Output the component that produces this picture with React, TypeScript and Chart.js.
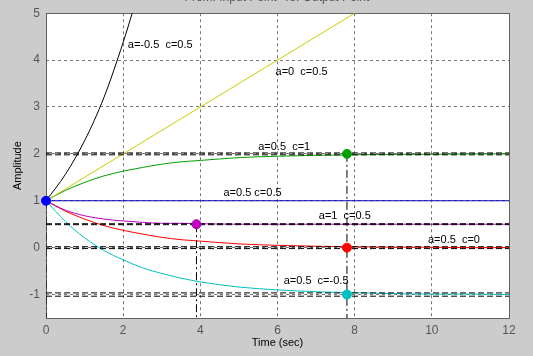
import React, { useEffect, useRef } from "react";
import { Chart, registerables } from "chart.js";

Chart.register(...registerables);

// ---- data ----
const times = [0, 0.5, 1, 1.5, 2, 2.5, 3, 3.5, 4, 5, 6, 7, 8, 9, 10, 11, 12];
const yA05C1 = [1, 1.22, 1.39, 1.53, 1.63, 1.71, 1.78, 1.83, 1.86, 1.92, 1.95, 1.97, 1.98, 1.99, 1.99, 2.0, 2.0];
const yA05C05 = [1, 1, 1, 1, 1, 1, 1, 1, 1, 1, 1, 1, 1, 1, 1, 1, 1];
const yA1C05 = [1, 0.8, 0.68, 0.61, 0.57, 0.54, 0.52, 0.52, 0.51, 0.5, 0.5, 0.5, 0.5, 0.5, 0.5, 0.5, 0.5];
const yA05C0 = [1, 0.78, 0.61, 0.47, 0.37, 0.29, 0.22, 0.17, 0.14, 0.08, 0.05, 0.03, 0.02, 0.01, 0.01, 0.0, 0.0];
const yA05Cm05 = [1, 0.56, 0.21, -0.06, -0.26, -0.43, -0.55, -0.65, -0.73, -0.84, -0.9, -0.94, -0.96, -0.98, -0.99, -0.99, -1.0];
const timesA0 = [0, 2, 4, 6, 8];
const yA0C05 = [1, 2, 3, 4, 5];
const timesAm05 = [0, 0.5, 1, 1.5, 2, 2.25];
const yAm05C05 = [1, 1.56, 2.28, 3.2, 4.38, 5.04];

// settling markers [t, y]
const markerT = [0, 3.9, 7.8, 7.8, 7.8];
const markerY = [1, 0.5, 2, 0, -1];
const markerColors = ["#0000ff", "#c000c0", "#00a000", "#ff0000", "#00c0c0"];

// steady-state band lines (y values)
const bandY = [2.02, 1.98, 0.51, 0.49, 0.02, -0.02, -0.965, -1.035];
// vertical settling lines [t, yTop]
const vlineT = [0, 3.9, 7.8];
const vlineTop = [1, 0.5, 2];

const xTicks = [0, 2, 4, 6, 8, 10, 12];
const yTicks = [-1, 0, 1, 2, 3, 4, 5];

const labelTexts = ["a=-0.5  c=0.5", "a=0  c=0.5", "a=0.5  c=1", "a=0.5 c=0.5", "a=1  c=0.5", "a=0.5  c=0", "a=0.5  c=-0.5"];
const labelT = [2.12, 5.95, 5.5, 4.6, 7.07, 9.9, 6.16];
const labelV = [4.33, 3.74, 2.15, 1.17, 0.68, 0.17, -0.7];

const pts = (xs: number[], ys: number[]) => xs.map((x, i) => ({ x, y: ys[i] }));

export default function App() {
  const ref = useRef<HTMLCanvasElement>(null);
  useEffect(() => {
    const canvas = ref.current!;
    const curve = (xs: number[], ys: number[], color: string) => ({
      type: "line" as const,
      data: pts(xs, ys),
      borderColor: color,
      borderWidth: 1,
      pointRadius: 0,
      cubicInterpolationMode: "monotone" as const,
      fill: false,
      order: 3,
    });
    const datasets: any[] = [
      curve(timesAm05, yAm05C05, "#000000"),
      curve(timesA0, yA0C05, "#cccc00"),
      curve(times, yA05C1, "#00a000"),
      curve(times, yA05C05, "#0000c0"),
      curve(times, yA1C05, "#c000c0"),
      curve(times, yA05C0, "#ff0000"),
      curve(times, yA05Cm05, "#00c0c0"),
    ];
    bandY.forEach((v) => {
      datasets.push({
        type: "line",
        data: [{ x: 0, y: v }, { x: 12, y: v }],
        borderColor: "#000000",
        borderWidth: 1,
        borderDash: [6, 3],
        pointRadius: 0,
        order: 2,
      });
    });
    vlineT.forEach((t, i) => {
      datasets.push({
        type: "line",
        data: [{ x: t, y: vlineTop[i] }, { x: t, y: -1.5 }],
        borderColor: "#000000",
        borderWidth: 1,
        borderDash: [8, 3, 2, 3],
        pointRadius: 0,
        order: 2,
      });
    });
    markerT.forEach((t, i) => {
      datasets.push({
        type: "scatter",
        data: [{ x: t, y: markerY[i] }],
        backgroundColor: markerColors[i],
        borderColor: markerColors[i],
        pointRadius: 4.5,
        showLine: false,
        clip: false,
        order: 1,
      });
    });

    const decor = {
      id: "decor",
      beforeDraw(chart: any) {
        const { ctx, chartArea: a } = chart;
        ctx.save();
        ctx.fillStyle = "#cccccc";
        ctx.fillRect(0, 0, chart.width, chart.height);
        ctx.fillStyle = "#ffffff";
        ctx.fillRect(a.left, a.top, a.right - a.left, a.bottom - a.top);
        ctx.restore();
      },
      beforeDatasetsDraw(chart: any) {
        const { ctx, chartArea: a } = chart;
        ctx.save();
        ctx.strokeStyle = "#606060";
        ctx.lineWidth = 1;
        ctx.setLineDash([]);
        ctx.strokeRect(Math.round(a.left) + 0.5, Math.round(a.top) + 0.5, Math.round(a.right - a.left), Math.round(a.bottom - a.top));
        ctx.restore();
      },
      afterDraw(chart: any) {
        const { ctx, chartArea: a, scales } = chart;
        ctx.save();
        ctx.font = "11px 'Liberation Sans', Arial, sans-serif";
        ctx.fillStyle = "#000000";
        ctx.textAlign = "left";
        ctx.textBaseline = "middle";
        labelTexts.forEach((txt, i) => {
          ctx.fillText(txt, scales.x.getPixelForValue(labelT[i]), scales.y.getPixelForValue(labelV[i]));
        });
        ctx.textAlign = "center";
        ctx.fillText("Time (sec)", (a.left + a.right) / 2, 343);
        ctx.save();
        ctx.translate(18, (a.top + a.bottom) / 2);
        ctx.rotate(-Math.PI / 2);
        ctx.fillText("Amplitude", 0, 0);
        ctx.restore();
        ctx.fillStyle = "#555555";
        ctx.font = "12px 'Liberation Sans', Arial, sans-serif";
        ctx.textBaseline = "alphabetic";
        ctx.fillText("From: Input Point  To: Output Point", 277, 1);
        ctx.restore();
      },
    };

    const chart = new Chart(canvas, {
      type: "line",
      data: { datasets },
      options: {
        animation: false,
        responsive: false,
        layout: { padding: { top: 10, right: 24, left: 0, bottom: 0 } },
        plugins: { legend: { display: false }, tooltip: { enabled: false }, title: { display: false } },
        scales: {
          x: {
            type: "linear",
            min: 0,
            max: 12,
            afterBuildTicks: (s: any) => { s.ticks = xTicks.map((v) => ({ value: v })); },
            afterFit: (s: any) => { s.height = 38; },
            grid: { color: "#777777", drawTicks: false, lineWidth: 1 },
            border: { display: false, dash: [3, 3] },
            ticks: { color: "#555555", padding: 5, font: { family: "'Liberation Sans', Arial, sans-serif", size: 12 }, maxRotation: 0 },
          },
          y: {
            type: "linear",
            min: -1.5,
            max: 5,
            afterBuildTicks: (s: any) => { s.ticks = yTicks.map((v) => ({ value: v })); },
            afterFit: (s: any) => { s.width = 46; },
            grid: { color: "#777777", drawTicks: false, lineWidth: 1 },
            border: { display: false, dash: [3, 3] },
            ticks: { color: "#555555", padding: 6, font: { family: "'Liberation Sans', Arial, sans-serif", size: 12 } },
          },
        },
      } as any,
      plugins: [decor],
    });
    return () => chart.destroy();
  }, []);
  return (
    <div style={{ position: "absolute", left: 0, top: 0, width: 533, height: 356 }}>
      <canvas ref={ref} width={533} height={356} style={{ width: 533, height: 356 }} />
    </div>
  );
}
